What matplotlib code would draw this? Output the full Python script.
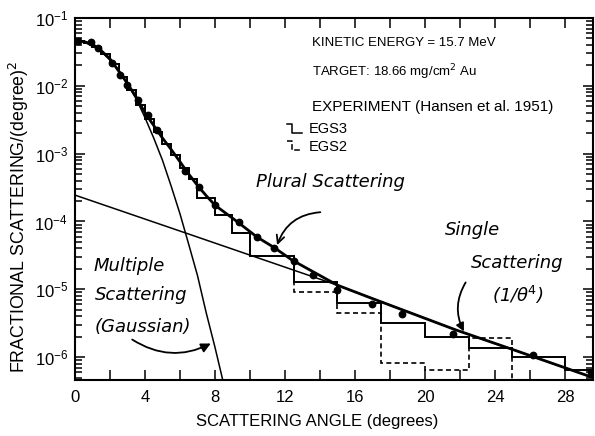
import matplotlib
matplotlib.use("Agg")
import matplotlib.pyplot as plt
from matplotlib.lines import Line2D
from matplotlib.legend_handler import HandlerBase
from matplotlib.ticker import MultipleLocator, LogLocator, NullFormatter

plt.rcParams['font.family'] = ['Liberation Sans', 'DejaVu Sans']

# experiment (Hansen et al. 1951)
exp_angle = [0.2, 0.9, 1.3, 2.1, 2.6, 3.0, 3.6, 4.2, 4.7, 6.3, 7.1, 8.0,
             9.4, 10.4, 11.4, 12.5, 13.6, 15.0, 17.0, 18.7, 21.6, 26.2, 29.5]
exp_value = [4.6e-2, 4.4e-2, 3.6e-2, 2.2e-2, 1.45e-2, 1.03e-2, 6.2e-3, 3.7e-3,
             2.2e-3, 5.6e-4, 3.2e-4, 1.75e-4, 9.8e-5, 5.9e-5, 4.1e-5, 2.6e-5,
             1.6e-5, 9.8e-6, 6.0e-6, 4.3e-6, 2.2e-6, 1.07e-6, 6.0e-7]

# total (smooth thick) curve
total_angle = [0, 0.5, 1, 1.5, 2, 2.5, 3, 3.5, 4, 4.5, 5, 5.5, 6, 6.5, 7, 7.5,
               8, 9.3, 10.4, 11.4, 12.4, 15.0, 17.0, 21.8, 25.0, 29.6]
total_value = [0.046, 0.045, 0.041, 0.033, 0.025, 0.0165, 0.0108, 0.0068,
               0.0040, 0.0026, 0.0017, 0.00115, 0.00076, 0.0005, 0.00034,
               0.00024, 1.74e-4, 9.8e-5, 5.9e-5, 4.1e-5, 2.7e-5, 1.15e-5,
               7.3e-6, 2.5e-6, 1.3e-6, 5.0e-7]

# multiple scattering (gaussian)
gauss_angle = [0, 0.5, 1, 1.5, 2, 2.5, 3, 3.5, 4, 4.5, 5, 5.5, 6, 6.5, 7,
               7.5, 8, 8.5]
gauss_value = [0.046, 0.044, 0.039, 0.032, 0.024, 0.017, 0.0106, 0.0064,
               0.0034, 0.0017, 8e-4, 3.3e-4, 1.3e-4, 4.6e-5, 1.6e-5, 4.5e-6,
               1.4e-6, 4.0e-7]

# single scattering line
single_angle = [0, 6.3, 15.0, 21.8, 29.6]
single_value = [2.45e-4, 6.8e-5, 1.15e-5, 2.5e-6, 5.0e-7]

# monte carlo histograms
bin_edges = [0, 0.5, 1, 1.5, 2, 2.5, 3, 3.5, 4, 4.5, 5, 5.5, 6, 6.5, 7, 8, 9,
             10, 12.5, 15, 17.5, 20, 22.5, 25, 28, 30]
egs3 = [0.046, 0.043, 0.037, 0.029, 0.021, 0.0135, 0.0087, 0.0052, 0.0032,
        0.0021, 0.0014, 9.5e-4, 6.2e-4, 4.2e-4, 2.2e-4, 1.23e-4, 6.8e-5,
        3.1e-5, 1.29e-5, 6.3e-6, 3.2e-6, 2.0e-6, 1.35e-6, 1.0e-6, 6.4e-7]
egs2 = [0.046, 0.043, 0.037, 0.029, 0.021, 0.0135, 0.0087, 0.0052, 0.0032,
        0.0021, 0.0014, 9.5e-4, 6.2e-4, 4.2e-4, 2.2e-4, 1.23e-4, 6.8e-5,
        3.1e-5, 9.2e-6, 4.5e-6, 8.1e-7, 6.4e-7, 1.9e-6, 1e-9, 1e-9]


class StepHandler(HandlerBase):
    def create_artists(self, legend, orig, xd, yd, w, h, fontsize, trans):
        x0, y0 = -xd, -yd
        ln = Line2D([x0, x0 + 0.35 * w, x0 + 0.35 * w, x0 + w],
                    [y0 + h, y0 + h, y0, y0],
                    color='black', lw=1.1, linestyle=orig.get_linestyle(),
                    transform=trans)
        return [ln]


fig = plt.figure(figsize=(5.95, 4.36), dpi=100)
ax = fig.add_axes([0.126, 0.1284, 0.8706, 0.8303])

ax.stairs(egs2, bin_edges, baseline=None, color='black', lw=1.2,
          linestyle=(0, (3, 2)), zorder=2)
ax.stairs(egs3, bin_edges, baseline=None, color='black', lw=1.4, zorder=3)
ax.plot(gauss_angle, gauss_value, color='black', lw=1.1, zorder=3)
ax.plot(single_angle, single_value, color='black', lw=1.1, zorder=3)
ax.plot(total_angle, total_value, color='black', lw=2.0, zorder=4)
ax.plot(exp_angle, exp_value, 'o', color='black', ms=4.6, zorder=5)

ax.set_yscale('log')
ax.set_xlim(0, 29.6)
ax.set_ylim(4.6e-7, 1e-1)
ax.xaxis.set_major_locator(MultipleLocator(4))
ax.xaxis.set_minor_locator(MultipleLocator(2))
ax.yaxis.set_major_locator(LogLocator(base=10))
ax.yaxis.set_minor_locator(LogLocator(base=10, subs=range(2, 10)))
ax.yaxis.set_minor_formatter(NullFormatter())
ax.tick_params(which='both', direction='in', top=True, right=True, width=1.1)
ax.tick_params(which='major', length=7)
ax.tick_params(axis='y', which='minor', length=5)
ax.tick_params(axis='x', which='minor', length=7)
ax.tick_params(axis='x', labelsize=12, pad=7)
ax.tick_params(axis='y', labelsize=12, pad=5)
for s in ax.spines.values():
    s.set_linewidth(1.5)

ax.set_xlabel('SCATTERING ANGLE (degrees)', fontsize=12)
ax.xaxis.set_label_coords(0.467, -0.094)
ax.set_ylabel('FRACTIONAL SCATTERING/(degree)$^2$', fontsize=12.8)
ax.yaxis.set_label_coords(-0.085, 0.45)

ax.text(0.4575, 0.931, 'KINETIC ENERGY = 15.7 MeV', transform=ax.transAxes,
        fontsize=9.5, va='center')
ax.text(0.4575, 0.851, 'TARGET: 18.66 mg/cm$^2$ Au', transform=ax.transAxes,
        fontsize=9.5, va='center')
ax.text(0.4575, 0.754, 'EXPERIMENT (Hansen et al. 1951)',
        transform=ax.transAxes, fontsize=11, va='center')

h3 = Line2D([], [], color='black', linestyle='-')
h2 = Line2D([], [], color='black', linestyle='--')
ax.legend([h3, h2], ['EGS3', 'EGS2'], handler_map={Line2D: StepHandler()},
          loc='upper left', bbox_to_anchor=(0.39, 0.74), frameon=False,
          fontsize=10.5, handlelength=1.0, handleheight=0.6,
          handletextpad=0.5, labelspacing=0.25, borderpad=0.2)

# hand-written notes
hand = dict(fontsize=13, fontstyle='italic', transform=ax.transAxes,
            family=['DejaVu Sans'])
ax.text(0.494, 0.547, 'Plural Scattering', ha='center', va='center', **hand)
ax.text(0.768, 0.414, 'Single', ha='center', va='center', **hand)
ax.text(0.853, 0.323, 'Scattering', ha='center', va='center', **hand)
ax.text(0.855, 0.235, '(1/\u03b8$^4$)', ha='center', va='center', **hand)
ax.text(0.036, 0.315, 'Multiple', ha='left', va='center', **hand)
ax.text(0.038, 0.235, 'Scattering', ha='left', va='center', **hand)
ax.text(0.038, 0.146, '(Gaussian)', ha='left', va='center', **hand)

ax.annotate('', xy=(11.5, 4.1e-5), xytext=(0.479, 0.464),
            textcoords='axes fraction',
            arrowprops=dict(arrowstyle='->', lw=1.3, color='black',
                            connectionstyle='arc3,rad=0.35',
                            mutation_scale=14))
ax.annotate('', xy=(22.3, 2.2e-6), xytext=(0.757, 0.276),
            textcoords='axes fraction',
            arrowprops=dict(arrowstyle='-|>', lw=1.3, color='black',
                            connectionstyle='arc3,rad=0.3',
                            mutation_scale=12))
ax.annotate('', xy=(7.9, 1.66e-6), xytext=(0.106, 0.116),
            textcoords='axes fraction',
            arrowprops=dict(arrowstyle='-|>', lw=1.3, color='black',
                            connectionstyle='arc3,rad=0.3',
                            mutation_scale=14))

fig.savefig('out.png', dpi=100)
